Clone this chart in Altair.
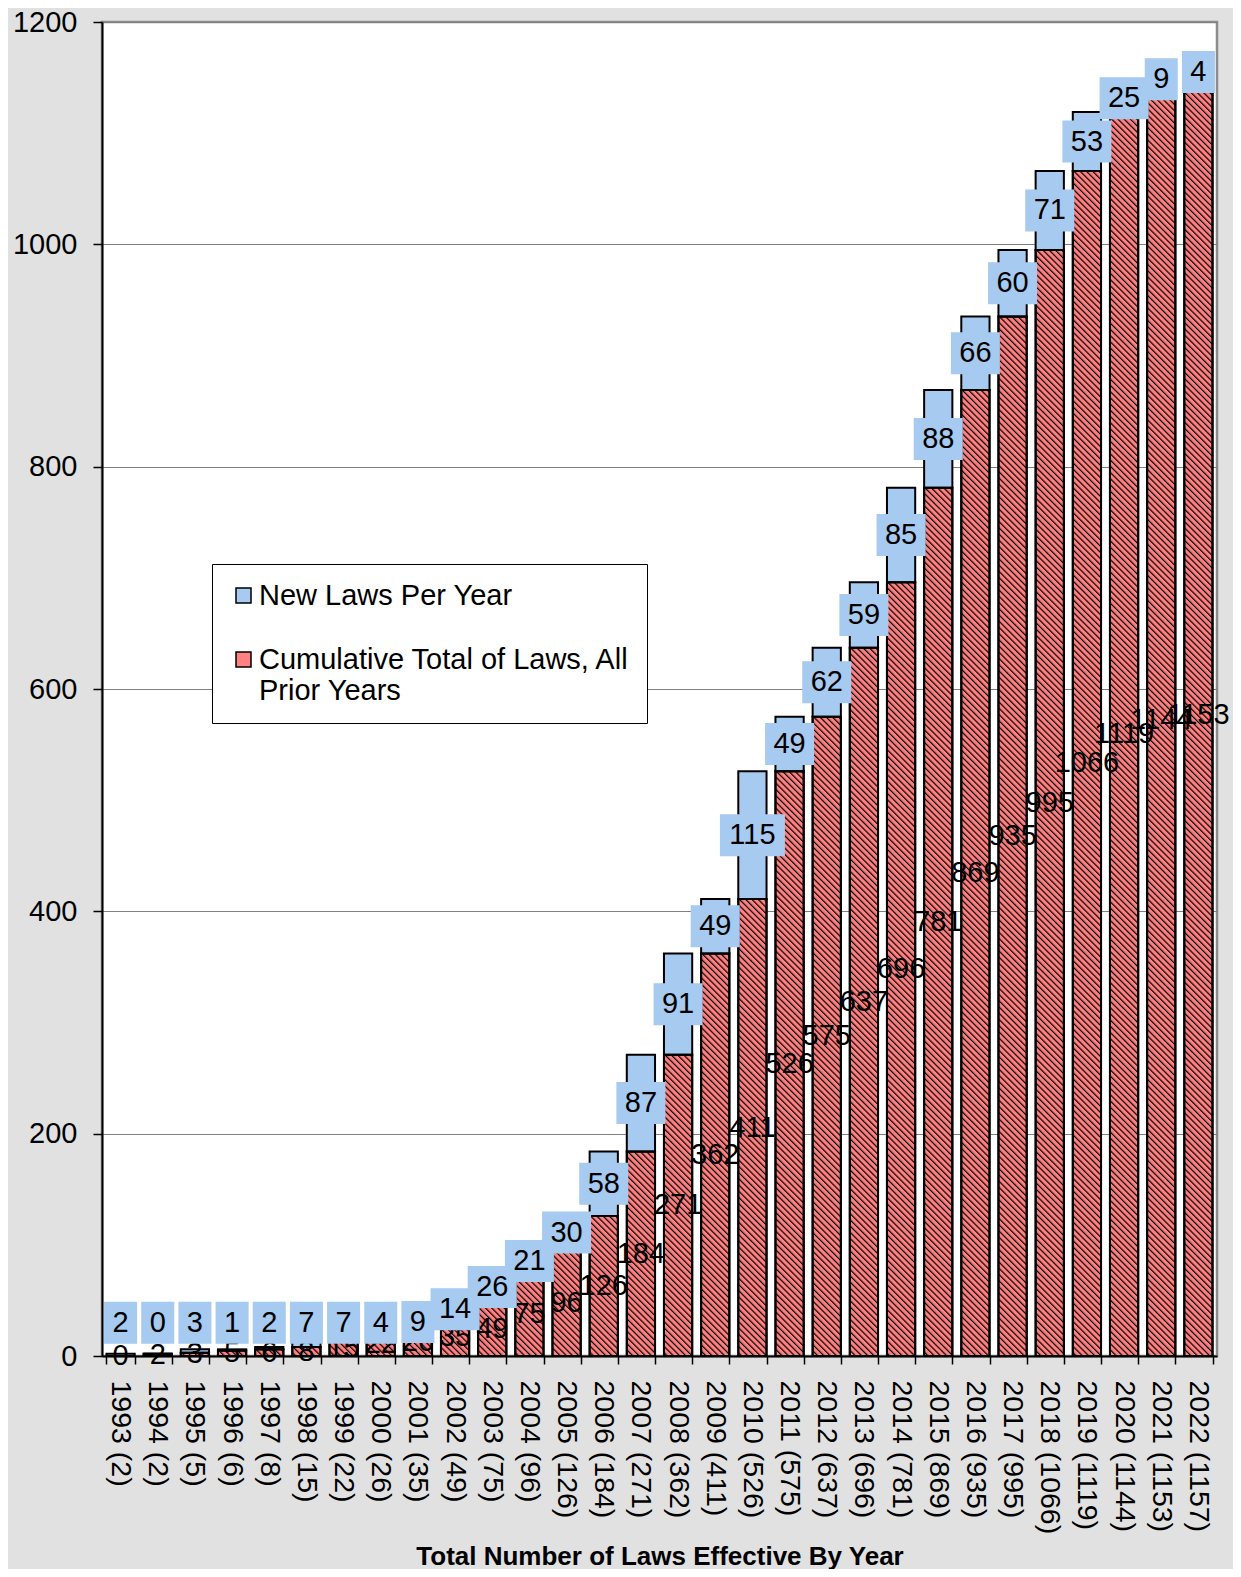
import base64
import altair as alt
import pandas as pd

# ---------------- data ----------------
years = [1993, 1994, 1995, 1996, 1997, 1998, 1999, 2000, 2001, 2002,
         2003, 2004, 2005, 2006, 2007, 2008, 2009, 2010, 2011, 2012,
         2013, 2014, 2015, 2016, 2017, 2018, 2019, 2020, 2021, 2022]
new_laws = [2, 0, 3, 1, 2, 7, 7, 4, 9, 14,
            26, 21, 30, 58, 87, 91, 49, 115, 49, 62,
            59, 85, 88, 66, 60, 71, 53, 25, 9, 4]
prior_total = [0, 2, 3, 5, 6, 8, 15, 22, 26, 35,
               49, 75, 96, 126, 184, 271, 362, 411, 526, 575,
               637, 696, 781, 869, 935, 995, 1066, 1119, 1144, 1153]
tick_labels = ["1993 (2)", "1994 (2)", "1995 (5)", "1996 (6)", "1997 (8)",
               "1998 (15)", "1999 (22)", "2000 (26)", "2001 (35)", "2002 (49)",
               "2003 (75)", "2004 (96)", "2005 (126)", "2006 (184)", "2007 (271)",
               "2008 (362)", "2009 (411)", "2010 (526)", "2011 (575)", "2012 (637)",
               "2013 (696)", "2014 (781)", "2015 (869)", "2016 (935)", "2017 (995)",
               "2018 (1066)", "2019 (1119)", "2020 (1144)", "2021 (1153)", "2022 (1157)"]
y_ticks = [0, 200, 400, 600, 800, 1000, 1200]

series_names = ["New Laws Per Year", "Cumulative Total of Laws, All Prior Years"]
series_colors = ["#a6caf0", "#ff8080"]

FONT = "Liberation Sans"

# ---------------- tables ----------------
base_df = pd.DataFrame({"label": tick_labels, "year": years,
                        "new": new_laws, "prior": prior_total})
base_df["top"] = base_df["prior"] + base_df["new"]
base_df["ndig"] = base_df["new"].astype(str).str.len().astype(str)

bars_df = pd.concat([
    pd.DataFrame({"label": tick_labels, "series": series_names[1],
                  "lo": 0, "hi": prior_total}),
    pd.DataFrame({"label": tick_labels, "series": series_names[0],
                  "lo": prior_total, "hi": list(base_df["top"])}),
], ignore_index=True)

# hatch pattern (drawn as an image inside each cumulative bar): diagonal "\" lines
hatch_svg = ("<svg xmlns='http://www.w3.org/2000/svg' width='100%' height='100%'>"
             "<defs><pattern id='h' width='4.4' height='4.4' patternUnits='userSpaceOnUse' "
             "patternTransform='rotate(-45)'>"
             "<rect x='0' y='0' width='1.2' height='4.4' fill='#000000'/></pattern></defs>"
             "<rect x='0' y='0' width='100%' height='100%' fill='url(#h)'/></svg>")
hatch_url = "data:image/svg+xml;base64," + base64.b64encode(hatch_svg.encode()).decode()

# label box shapes (width depends on digit count)
box_paths = [
    "M-0.786,-1H0.786V1H-0.786Z",
    "M-1.167,-1H1.167V1H-1.167Z",
    "M-1.548,-1H1.548V1H-1.548Z",
]

# ---------------- shared encodings ----------------
x_enc = alt.X(
    "label:N", sort=tick_labels,
    scale=alt.Scale(paddingInner=0.24, paddingOuter=0.12),
    axis=alt.Axis(
        title="Total Number of Laws Effective By Year",
        titleFontSize=26, titleFontWeight="bold", titleFont=FONT,
        titleBaseline="alphabetic", titleY=208, titleColor="black",
        labelAngle=90, labelFontSize=28.5, labelFont=FONT, labelColor="black",
        labelPadding=16, tickSize=8, tickBand="extent", tickColor="black",
        tickWidth=1.5, domainColor="black", domainWidth=2, grid=False,
        labelOverlap=False,
    ),
)

y_scale = alt.Scale(domain=[0, 1200], nice=False)
y_axis = alt.Axis(
    values=y_ticks, format="d", labelFontSize=29, labelFont=FONT, labelColor="black",
    tickSize=9, labelPadding=16, tickColor="black", tickWidth=1.5,
    domainColor="black", domainWidth=2, grid=True, gridColor="#808080",
    gridWidth=1.2, title=None,
)

# ---------------- layers ----------------
bars = alt.Chart(bars_df).mark_bar(stroke="black", strokeWidth=2, opacity=1).encode(
    x=x_enc,
    y=alt.Y("hi:Q", scale=y_scale, axis=y_axis, title=None),
    y2="lo:Q",
    color=alt.Color(
        "series:N",
        scale=alt.Scale(domain=series_names, range=series_colors),
        legend=alt.Legend(
            title=None, orient="none", legendX=110, legendY=542,
            direction="vertical", labelFontSize=29, labelFont=FONT,
            labelColor="black", labelLimit=700, labelOffset=1,
            symbolType="square", symbolSize=225, symbolStrokeColor="black",
            symbolStrokeWidth=1.5, fillColor="white", strokeColor="black",
            padding=17, rowPadding=34,
            labelExpr=("datum.label == 'Cumulative Total of Laws, All Prior Years' ? "
                       "['Cumulative Total of Laws, All', 'Prior Years'] : datum.label"),
        ),
    ),
)

hatch = alt.Chart(base_df).mark_image(aspect=False).encode(
    x=x_enc,
    y=alt.Y("prior:Q", scale=y_scale, axis=y_axis, title=None),
    url=alt.value(hatch_url),
)

outline = alt.Chart(base_df).mark_bar(fillOpacity=0, stroke="black", strokeWidth=2).encode(
    x=x_enc,
    y=alt.Y("prior:Q", scale=y_scale, axis=y_axis, title=None),
)

prior_text = alt.Chart(base_df).transform_calculate(
    mid="datum.prior / 2"
).mark_text(fontSize=29, font=FONT, color="black", baseline="middle").encode(
    x=x_enc,
    y=alt.Y("mid:Q", scale=y_scale, axis=y_axis, title=None),
    text=alt.Text("prior:Q"),
)

label_base = alt.Chart(base_df).transform_calculate(
    ly="max(datum.prior + datum.new / 2, 30)"
)

new_boxes = label_base.mark_point(filled=True, opacity=1, size=1764,
                                  color="#a6caf0", strokeWidth=0).encode(
    x=x_enc,
    y=alt.Y("ly:Q", scale=y_scale, axis=y_axis, title=None),
    shape=alt.Shape("ndig:N", scale=alt.Scale(domain=["1", "2", "3"], range=box_paths),
                    legend=None),
)

new_text = label_base.mark_text(fontSize=29, font=FONT, color="black",
                                baseline="middle").encode(
    x=x_enc,
    y=alt.Y("ly:Q", scale=y_scale, axis=y_axis, title=None),
    text=alt.Text("new:Q"),
)

chart = alt.layer(bars, hatch, outline, prior_text, new_boxes, new_text).properties(
    width=1115, height=1334,
    autosize=alt.AutoSizeParams(type="none"),
    padding={"left": 94, "top": 14, "right": 16, "bottom": 213},
    background="#e1e1e1",
).configure(font=FONT).configure_view(
    fill="white", stroke="#8c8c8c", strokeWidth=2.5
)

chart.save("out.html", embed_options={"renderer": "svg", "actions": False})
